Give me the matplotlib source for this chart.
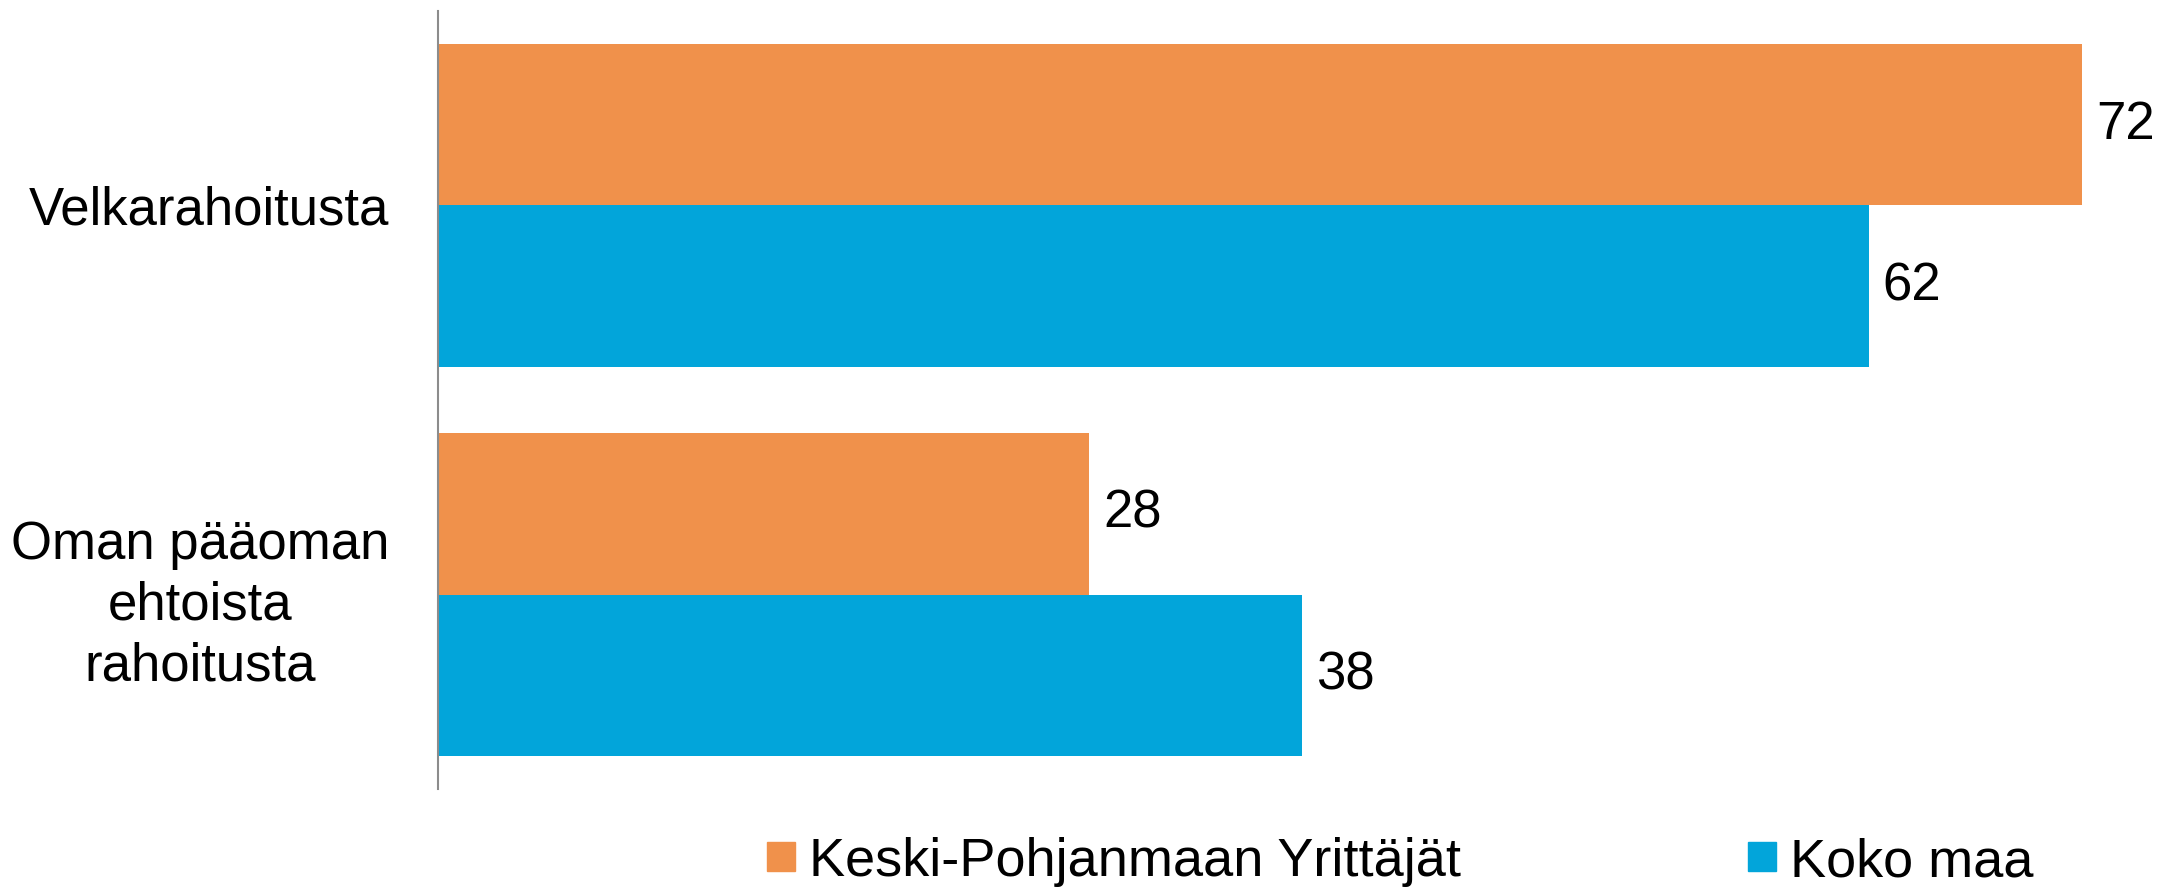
import numpy as np
import matplotlib
matplotlib.use("Agg")
import matplotlib.pyplot as plt
from matplotlib.patches import Patch

# -----------------------------------------------------------------------------
# Data (bar lengths, labels shown rounded)
# -----------------------------------------------------------------------------
categories = ["Velkarahoitusta", "Oman pääoman\nehtoista\nrahoitusta"]
series_names = ["Keski-Pohjanmaan Yrittäjät", "Koko maa"]
regional = [71.7, 28.4]
national = [62.4, 37.7]

orange = "#F0914B"
blue = "#02A5DA"

plt.rcParams["font.family"] = ["Liberation Sans", "DejaVu Sans"]
fs = 38

# -----------------------------------------------------------------------------
# Plot
# -----------------------------------------------------------------------------
fig = plt.figure(figsize=(21.61, 8.88), dpi=100)
ax = fig.add_axes([438 / 2161, 99 / 888, 1 - 438 / 2161, 778 / 888])

y = np.arange(len(categories))[::-1]  # first category on top
h = 0.414

b1 = ax.barh(y + h / 2, regional, height=h, color=orange)
b2 = ax.barh(y - h / 2, national, height=h, color=blue)

ax.bar_label(b1, fmt="%.0f", padding=10, fontsize=fs)
ax.bar_label(b2, fmt="%.0f", padding=10, fontsize=fs)

ax.set_xlim(0, 75.14)
ax.set_ylim(-0.5, 1.5)
ax.set_yticks(y)
ax.set_yticklabels(categories, fontsize=fs, linespacing=1.28)
for lbl in ax.get_yticklabels():
    lbl.set_multialignment("center")
ax.tick_params(axis="y", length=0, pad=35)
ax.set_xticks([])

for s in ["top", "right", "bottom"]:
    ax.spines[s].set_visible(False)
ax.spines["left"].set_color("#8C8C8C")
ax.spines["left"].set_linewidth(1.5)

handles = [Patch(color=orange), Patch(color=blue)]
fig.legend(handles, series_names, loc="center left",
           bbox_to_anchor=(740 / 2161, 26 / 888), ncol=2, frameon=False,
           fontsize=39, borderpad=0, handlelength=0.52, handleheight=0.44,
           handletextpad=0.25, columnspacing=5.3)

fig.savefig("out.png", dpi=100)
